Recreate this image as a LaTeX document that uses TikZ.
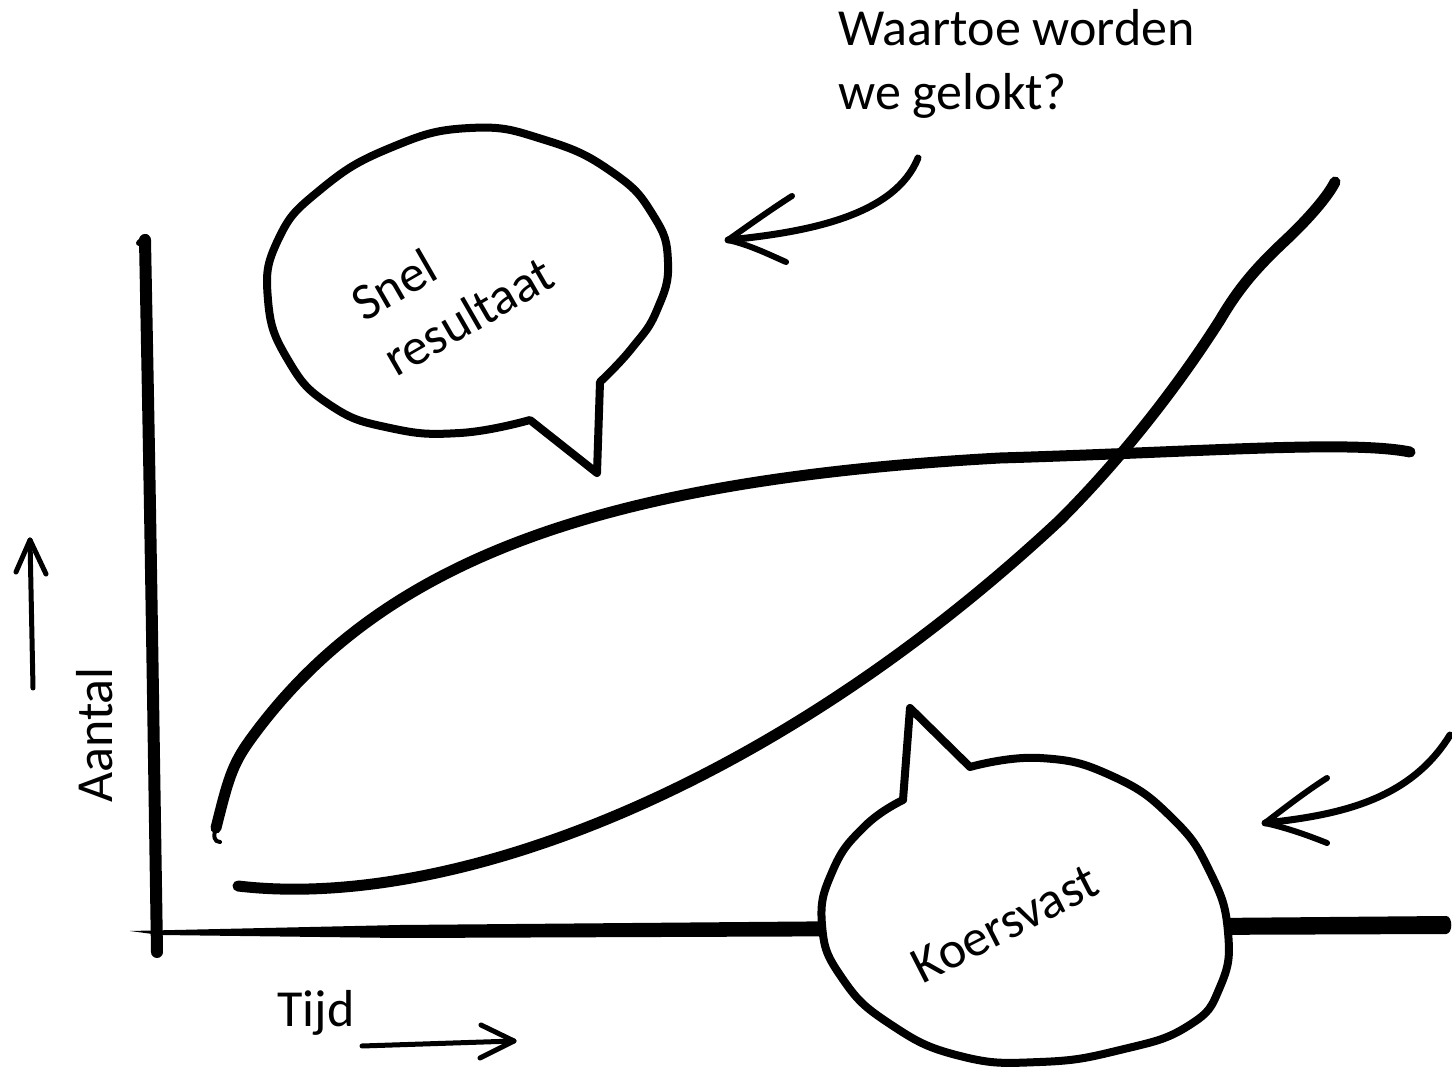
\documentclass[tikz,border=0pt]{standalone}
\usepackage{fontspec}
\setmainfont{Carlito}

\begin{document}
\begin{tikzpicture}[x=0.5pt, y=-0.5pt,
	inkline/.style={line width=#1, line cap=round, line join=round},
	inkline/.default=5.5pt,
	bubble/.style={inkline=4pt, fill=white},
	txt/.style={font=\fontsize{26}{32}\selectfont, inner sep=0pt}]
	\useasboundingbox (0,0) rectangle (1452,1068);

	% axes
	\fill (130,931) -- (400,925) -- (1446,916) to[out=0, in=0] (1446,934) -- (400,938) -- (160,935) -- cycle;
	\draw[inkline=6pt] (145,240) .. controls (150,500) .. (157,952);
	\draw[inkline=3pt] (139,243) -- (146,237);

	% curves
	\draw[inkline=2pt] (220,842) .. controls (214,842) and (213,836) .. (216,828);
	\draw[inkline] (216,828) .. controls (228,780) and (232,765) .. (250,740) .. controls (380,560) and (600,480) .. (1000,458) .. controls (1200,452) and (1350,440) .. (1410,452);
	\draw[inkline] (238,886) .. controls (440,910) and (760,800) .. (1060,520) .. controls (1130,450) and (1185,375) .. (1220,320) .. controls (1240,286) and (1258,266) .. (1288,238) .. controls (1310,217) and (1328,196) .. (1335,182);

	% bubbles
	\draw[bubble] (600,382) -- (597,473) -- (530,420) -- plot[smooth, tension=0.8] coordinates {(530,420) (460,433) (390,428) (330,405) (288,360) (268,300) (278,240) (320,190) (390,148) (470,128) (545,140) (612,172) (653,215) (668,262) (657,310) (632,348) (600,382)} -- cycle;
	\draw[bubble] (903,800) -- (910,708) -- (970,767) -- plot[smooth, tension=0.8] coordinates {(970,767) (1040,758) (1112,776) (1172,818) (1210,872) (1228,932) (1220,987) (1188,1026) (1120,1050) (1040,1062) (960,1056) (890,1024) (842,978) (822,925) (833,870) (865,826) (903,800)} -- cycle;

	% labels
	\node[txt, align=left, anchor=north west] (vraag) at (838,9) {Waartoe worden\\we gelokt?};
	\node[txt, align=left, rotate=30] (snel) at (452,288) {Snel\\resultaat};
	\node[txt, rotate=27] (koers) at (1005,924) {Koersvast};
	\node[txt, rotate=90] (aantal) at (95,735) {Aantal};
	\node[txt, anchor=base] (tijd) at (316,1027) {Tijd};

	% arrows
	\coordinate (vstart) at (918,158);
	\coordinate (vtip) at (728,240);
	\coordinate (kstart) at (1450,735);
	\coordinate (ktip) at (1265,823);
	\draw[inkline=3.5pt] (vstart) .. controls (895,215) and (810,232) .. (vtip);
	\draw[inkline=3pt] (792,196) .. controls (770,210) and (745,228) .. (vtip) .. controls (750,245) and (770,255) .. (786,262);
	\draw[inkline=3.5pt] (kstart) .. controls (1410,800) and (1340,815) .. (ktip);
	\draw[inkline=3pt] (1327,778) .. controls (1305,792) and (1282,810) .. (ktip) .. controls (1287,828) and (1307,835) .. (1327,843);
	\draw[inkline=2.5pt] (33,688) -- (30,540);
	\draw[inkline=2.5pt] (16,572) -- (30,540) -- (46,574);
	\draw[inkline=2.5pt] (362,1046) -- (514,1041);
	\draw[inkline=2.5pt] (481,1025) -- (514,1041) -- (480,1058);
\end{tikzpicture}
\end{document}
